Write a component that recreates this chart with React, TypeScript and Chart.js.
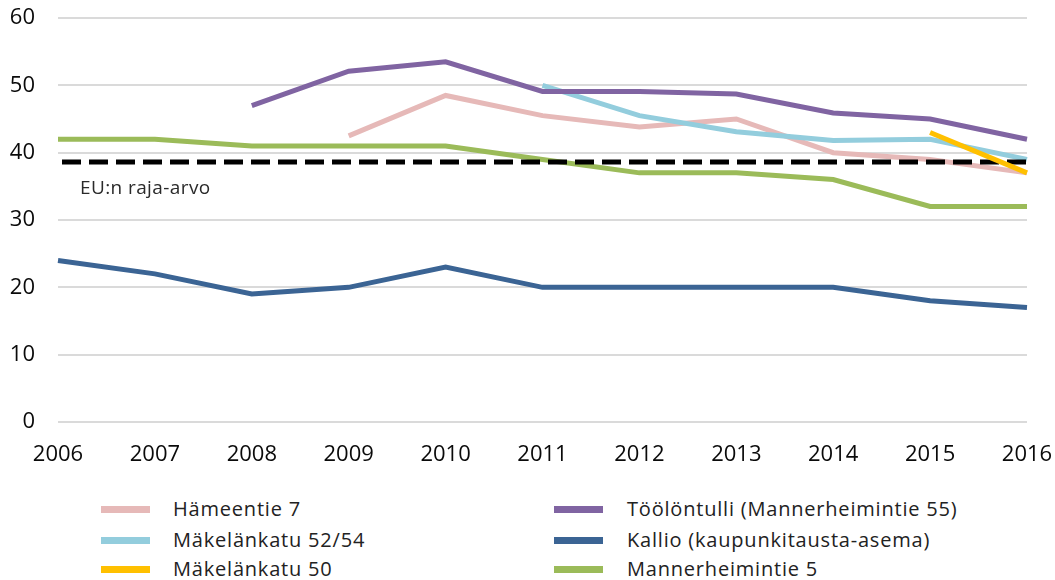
import React, { useEffect, useRef } from "react";
import { Chart, registerables } from "chart.js";

Chart.register(...registerables);

const years = ["2006", "2007", "2008", "2009", "2010", "2011", "2012", "2013", "2014", "2015", "2016"];
const hameentie7 = [null, null, null, 42.5, 48.5, 45.5, 43.8, 45.0, 40.0, 39.0, 37.0];
const makelankatu5254 = [null, null, null, null, null, 50.0, 45.5, 43.1, 41.8, 42.0, 39.0];
const makelankatu50 = [null, null, null, null, null, null, null, null, null, 43.0, 37.0];
const toolontulli = [null, null, 47.0, 52.1, 53.5, 49.1, 49.1, 48.7, 45.9, 45.0, 42.0];
const kallio = [24, 22, 19, 20, 23, 20, 20, 20, 20, 18, 17];
const mannerheimintie5 = [42, 42, 41, 41, 41, 39, 37, 37, 36, 32, 32];
const euLimitValue = 38.6;
const euLimit = years.map(() => euLimitValue);
const euLabel = "EU:n raja-arvo";

const seriesNames = [
  "Hämeentie 7",
  "Töölöntulli (Mannerheimintie 55)",
  "Mäkelänkatu 52/54",
  "Kallio (kaupunkitausta-asema)",
  "Mäkelänkatu 50",
  "Mannerheimintie 5",
];
const seriesColors = ["#E6B9B8", "#8064A2", "#93CDDD", "#3B6494", "#FFC000", "#9BBB59"];

const FONT = "'Open Sans', 'DejaVu Sans', sans-serif";

export default function App() {
  const ref = useRef<HTMLCanvasElement | null>(null);

  useEffect(() => {
    document.body.style.margin = "0";
    const canvas = ref.current;
    if (!canvas) return;

    const euLabelPlugin = {
      id: "euLabel",
      afterDatasetsDraw(chart: any) {
        const { ctx, chartArea, scales } = chart;
        const y = scales.y.getPixelForValue(euLimitValue) + 27;
        ctx.save();
        ctx.font = `19px ${FONT}`;
        try {
          (ctx as any).letterSpacing = "0.4px";
        } catch (e) {}
        ctx.fillStyle = "#2a2a2a";
        ctx.textAlign = "left";
        ctx.textBaseline = "middle";
        ctx.fillText(euLabel, chartArea.left + 22, y);
        ctx.restore();
      },
    };

    const mk = (label: string, data: (number | null)[], color: string, order: number) => ({
      label,
      data,
      borderColor: color,
      backgroundColor: color,
      borderWidth: 5,
      pointRadius: 0,
      tension: 0,
      fill: false,
      spanGaps: false,
      order,
    });

    const zeroPad = (s: any) => {
      s.paddingTop = 0;
      s.paddingBottom = 0;
      s.paddingLeft = 0;
      s.paddingRight = 0;
    };

    const chart = new Chart(canvas, {
      type: "line",
      data: {
        labels: years,
        datasets: [
          mk(seriesNames[0], hameentie7, seriesColors[0], 6),
          mk(seriesNames[1], toolontulli, seriesColors[1], 3),
          mk(seriesNames[2], makelankatu5254, seriesColors[2], 4),
          mk(seriesNames[3], kallio, seriesColors[3], 5),
          mk(seriesNames[4], makelankatu50, seriesColors[4], 0),
          mk(seriesNames[5], mannerheimintie5, seriesColors[5], 2),
          {
            label: euLabel,
            data: euLimit,
            borderColor: "#000000",
            backgroundColor: "#000000",
            borderWidth: 5,
            borderDash: [19, 8],
            borderDashOffset: 23,
            borderCapStyle: "butt",
            pointRadius: 0,
            tension: 0,
            fill: false,
            order: 1,
          },
        ],
      },
      options: {
        animation: false,
        responsive: false,
        maintainAspectRatio: false,
        layout: { padding: { top: 18, right: 28, bottom: 0, left: 0 } },
        plugins: {
          legend: { display: false },
          tooltip: { enabled: false },
        },
        scales: {
          x: {
            offset: false,
            grid: { display: false, drawTicks: false },
            border: { display: false },
            ticks: {
              color: "#0a0a0a",
              font: { family: FONT, size: 22 },
              padding: 20,
              maxRotation: 0,
              autoSkip: false,
            },
            afterFit: (s: any) => {
              s.height = 58;
              zeroPad(s);
            },
          },
          y: {
            min: 0,
            max: 60,
            grid: { color: "#dadada", lineWidth: 2, drawTicks: false },
            border: { display: false },
            ticks: {
              stepSize: 10,
              color: "#0a0a0a",
              font: { family: FONT, size: 22 },
              padding: 23,
            },
            afterFit: (s: any) => {
              s.width = 58;
              zeroPad(s);
            },
          },
        },
      },
      plugins: [euLabelPlugin],
    });

    return () => chart.destroy();
  }, []);

  const rows = [
    [0, 1],
    [2, 3],
    [4, 5],
  ];
  const rowY = [509, 540, 569];
  const swatchX = [101, 554];
  const textX = [173, 627];

  return (
    <div style={{ position: "relative", width: 1055, height: 580, background: "#ffffff", overflow: "hidden" }}>
      <canvas ref={ref} width={1055} height={480} style={{ position: "absolute", left: 0, top: 0, width: 1055, height: 480 }} />
      {rows.map((pair, r) =>
        pair.map((idx, c) => (
          <React.Fragment key={idx}>
            <div
              style={{
                position: "absolute",
                left: swatchX[c],
                top: rowY[r] - 3.5,
                width: 49,
                height: 7,
                background: seriesColors[idx],
              }}
            />
            <div
              style={{
                position: "absolute",
                left: textX[c],
                top: rowY[r] - 14,
                height: 28,
                lineHeight: "28px",
                fontFamily: FONT,
                fontSize: 20,
                color: "#222222",
                whiteSpace: "nowrap",
                letterSpacing: "0.8px",
              }}
            >
              {seriesNames[idx]}
            </div>
          </React.Fragment>
        ))
      )}
    </div>
  );
}
